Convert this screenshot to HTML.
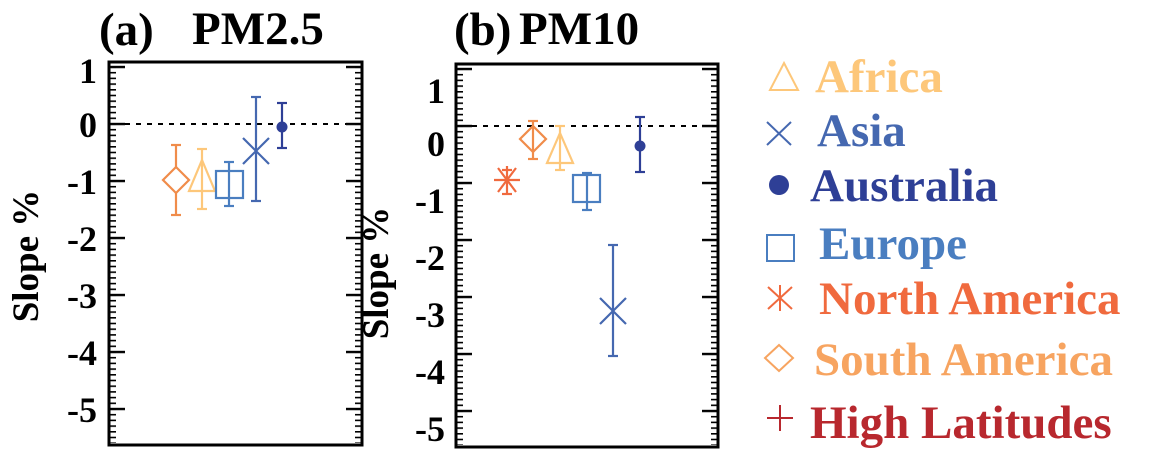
<!DOCTYPE html>
<html><head><meta charset="utf-8"><style>
body{margin:0;background:#fff;}
svg{display:block;}
</style></head><body>
<svg width="1153" height="461" viewBox="0 0 1153 461" xmlns="http://www.w3.org/2000/svg" font-family="'Liberation Serif', 'Times New Roman', serif" font-weight="bold">
<defs>
<pattern id="minA" x="0" y="123.2" width="40" height="5.7" patternUnits="userSpaceOnUse"><rect x="0" y="0" width="40" height="1.6" fill="#000"/></pattern>
<pattern id="majA" x="0" y="122.8" width="40" height="57" patternUnits="userSpaceOnUse"><rect x="0" y="0" width="40" height="2.4" fill="#000"/></pattern>
<pattern id="minB" x="0" y="125.2" width="40" height="5.7" patternUnits="userSpaceOnUse"><rect x="0" y="0" width="40" height="1.6" fill="#000"/></pattern>
<pattern id="majB" x="0" y="124.8" width="40" height="57" patternUnits="userSpaceOnUse"><rect x="0" y="0" width="40" height="2.4" fill="#000"/></pattern>
</defs>
<!-- Panel a -->
<text x="99" y="45" font-size="47">(a)</text>
<text x="192" y="44" font-size="47">PM2.5</text>
<rect x="109" y="64" width="7" height="379" fill="url(#minA)"/>
<rect x="355" y="64" width="7" height="379" fill="url(#minA)"/>
<rect x="109" y="64" width="16" height="379" fill="url(#majA)"/>
<rect x="346" y="64" width="16" height="379" fill="url(#majA)"/>
<rect x="109" y="62" width="253" height="383" fill="none" stroke="#000" stroke-width="3"/>
<g font-size="36" text-anchor="end">
<text x="97" y="83">1</text><text x="97" y="137">0</text><text x="97" y="194">-1</text><text x="97" y="251">-2</text><text x="97" y="308">-3</text><text x="97" y="365">-4</text><text x="97" y="422">-5</text>
</g>
<text transform="translate(38,256) rotate(-90)" font-size="37" text-anchor="middle">Slope %</text>
<line x1="125" y1="124" x2="346" y2="124" stroke="#000" stroke-width="2" stroke-dasharray="5,6"/>
<g fill="none" stroke-width="2.2">
<g stroke="#f08c4a"><line x1="176" y1="145" x2="176" y2="215"/><line x1="171" y1="145" x2="181" y2="145"/><line x1="171" y1="215" x2="181" y2="215"/><polygon points="176,167 189,180 176,193 163,180" fill="#fff"/></g>
<g stroke="#fdc77a"><line x1="202" y1="149" x2="202" y2="209"/><line x1="197" y1="149" x2="207" y2="149"/><line x1="197" y1="209" x2="207" y2="209"/><polygon points="202,160 215,191 189,191"/></g>
<g stroke="#4a7ec0"><line x1="229" y1="162" x2="229" y2="206"/><line x1="224" y1="162" x2="234" y2="162"/><line x1="224" y1="206" x2="234" y2="206"/><rect x="216" y="171" width="27" height="27"/></g>
<g stroke="#4568b0"><line x1="256" y1="97" x2="256" y2="201"/><line x1="251" y1="97" x2="261" y2="97"/><line x1="251" y1="201" x2="261" y2="201"/><line x1="243" y1="138" x2="269" y2="164"/><line x1="269" y1="138" x2="243" y2="164"/></g>
<g stroke="#2e3f96"><line x1="282" y1="103" x2="282" y2="148"/><line x1="277" y1="103" x2="287" y2="103"/><line x1="277" y1="148" x2="287" y2="148"/></g>
</g>
<circle cx="282" cy="127" r="5.5" fill="#2e3f96"/>

<!-- Panel b -->
<text x="454" y="45" font-size="47">(b)</text>
<text x="519" y="44" font-size="47">PM10</text>
<rect x="456" y="66" width="7" height="379" fill="url(#minB)"/>
<rect x="711" y="66" width="7" height="379" fill="url(#minB)"/>
<rect x="456" y="66" width="16" height="379" fill="url(#majB)"/>
<rect x="702" y="66" width="16" height="379" fill="url(#majB)"/>
<rect x="456" y="64" width="262" height="383" fill="none" stroke="#000" stroke-width="3"/>
<g font-size="36" text-anchor="end">
<text x="445" y="103">1</text><text x="445" y="156">0</text><text x="445" y="213">-1</text><text x="445" y="270">-2</text><text x="445" y="327">-3</text><text x="445" y="384">-4</text><text x="445" y="441">-5</text>
</g>
<text transform="translate(388,273) rotate(-90)" font-size="37" text-anchor="middle">Slope %</text>
<line x1="472" y1="126" x2="702" y2="126" stroke="#000" stroke-width="2" stroke-dasharray="5,6"/>
<g fill="none" stroke-width="2.2">
<g stroke="#f06a3e"><line x1="502" y1="170" x2="512" y2="170"/><line x1="502" y1="194" x2="512" y2="194"/><line x1="494" y1="180" x2="520" y2="180"/><line x1="498" y1="168" x2="516" y2="192"/><line x1="516" y1="168" x2="498" y2="192"/><line x1="507" y1="166" x2="507" y2="194"/></g>
<g stroke="#f08c4a"><line x1="533" y1="121" x2="533" y2="159"/><line x1="528" y1="121" x2="538" y2="121"/><line x1="528" y1="159" x2="538" y2="159"/><polygon points="533,126 546,139 533,152 520,139"/></g>
<g stroke="#fdc77a"><line x1="560" y1="126" x2="560" y2="170"/><line x1="555" y1="126" x2="565" y2="126"/><line x1="555" y1="170" x2="565" y2="170"/><polygon points="560,133 573,163 547,163"/></g>
<g stroke="#4a7ec0"><line x1="587" y1="173" x2="587" y2="210"/><line x1="582" y1="173" x2="592" y2="173"/><line x1="582" y1="210" x2="592" y2="210"/><rect x="573" y="175" width="27" height="27"/></g>
<g stroke="#4568b0"><line x1="613" y1="245" x2="613" y2="356"/><line x1="608" y1="245" x2="618" y2="245"/><line x1="608" y1="356" x2="618" y2="356"/><line x1="600" y1="298" x2="626" y2="324"/><line x1="626" y1="298" x2="600" y2="324"/></g>
<g stroke="#2e3f96"><line x1="640" y1="117" x2="640" y2="172"/><line x1="635" y1="117" x2="645" y2="117"/><line x1="635" y1="172" x2="645" y2="172"/></g>
</g>
<circle cx="640" cy="146" r="5.5" fill="#2e3f96"/>

<!-- Legend -->
<g fill="none" stroke-width="2">
<polygon points="784,63 798,90 770,90" stroke="#fdc77a"/>
<g stroke="#4568b0"><line x1="767" y1="122" x2="791" y2="145"/><line x1="791" y1="122" x2="767" y2="145"/></g>
<rect x="767" y="235" width="27" height="26" stroke="#4a7ec0"/>
<g stroke="#f06a3e"><line x1="780" y1="285" x2="780" y2="311"/><line x1="768" y1="287" x2="792" y2="309"/><line x1="792" y1="287" x2="768" y2="309"/></g>
<polygon points="779,345 793,358 779,371 765,358" stroke="#f7a460"/>
<g stroke="#b8282e"><line x1="767" y1="418" x2="793" y2="418"/><line x1="780" y1="405" x2="780" y2="431"/></g>
</g>
<circle cx="779" cy="185" r="10" fill="#2e3f96"/>
<g font-size="47">
<text x="815" y="92" fill="#fdc77a">Africa</text>
<text x="817" y="146" fill="#4568b0">Asia</text>
<text x="810" y="201" fill="#2e3f96">Australia</text>
<text x="819" y="259" fill="#4a7ec0">Europe</text>
<text x="819" y="314" fill="#f06a3e">North America</text>
<text x="814" y="375" fill="#f7a460">South America</text>
<text x="810" y="438" fill="#b8282e">High Latitudes</text>
</g>
</svg>
</body></html>
